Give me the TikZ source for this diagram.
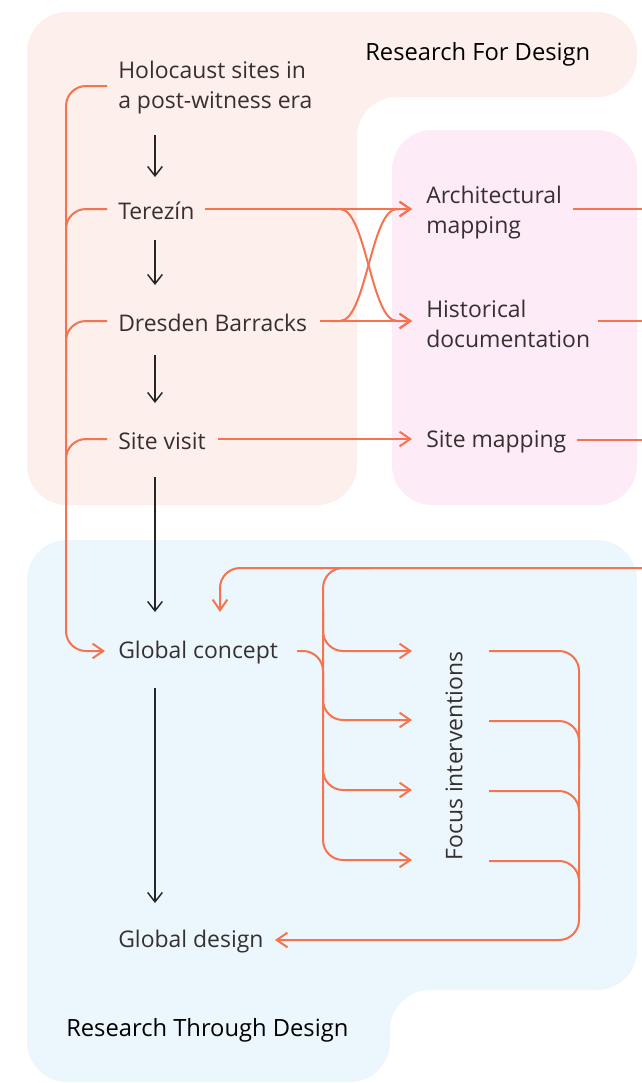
\documentclass[tikz,border=0pt]{standalone}
\usepackage{fontspec}
\setmainfont{Open Sans}
\usetikzlibrary{arrows.meta}
\definecolor{peach}{HTML}{FDEFEB}
\definecolor{pinkbg}{HTML}{FDEBF7}
\definecolor{bluebg}{HTML}{EBF7FD}
\definecolor{coral}{HTML}{F5734F}
\definecolor{txt}{HTML}{363030}
\begin{document}
\begin{tikzpicture}[x=0.75pt,y=-0.75pt,
  lbl/.style={anchor=west, inner sep=0pt, align=left, text=txt, font=\fontsize{17.2}{22.5}\selectfont},
  ttl/.style={anchor=west, inner sep=0pt, text=black, font=\fontsize{17.8}{22.5}\selectfont},
  oline/.style={draw=coral, line width=1.5pt, rounded corners=15pt},
  ocurve/.style={draw=coral, line width=1.5pt, sharp corners},
  otip/.style={-{Straight Barb[length=8pt,width=11pt]}},
  karrow/.style={draw=black!85, line width=1.1pt, -{Straight Barb[length=7pt,width=11pt]}}]
\useasboundingbox (0,0) rectangle (642,1083);
% backgrounds
\fill[peach, rounded corners=30pt] (27,12) -- (637,12) -- (637,97) -- (357,97) -- (357,505) -- (27,505) -- cycle;
\fill[pinkbg, rounded corners=30pt] (392,130) rectangle (637,505);
\fill[bluebg, rounded corners=30pt] (27,540) -- (637,540) -- (637,990) -- (390,990) -- (390,1082) -- (27,1082) -- cycle;
% titles
\node[ttl] (rfd) at (365,54) {Research For Design};
\node[ttl] (rtd) at (66,1030) {Research Through Design};
% labels
\node[lbl] (holo) at (118,88) {Holocaust sites in\\a post-witness era};
\node[lbl] (terezin) at (118,211) {Terezín};
\node[lbl] (dresden) at (118,323) {Dresden Barracks};
\node[lbl] (visit) at (118,441) {Site visit};
\node[lbl] (gconcept) at (118,653) {Global concept};
\node[lbl] (gdesign) at (118,942) {Global design};
\node[lbl] (arch) at (426,213) {Architectural\\mapping};
\node[lbl] (hist) at (426,324) {Historical\\documentation};
\node[lbl] (smap) at (426,442) {Site mapping};
\node[inner sep=0pt, text=txt, rotate=90, font=\fontsize{17.2}{22.5}\selectfont] (focus) at (454,756) {Focus interventions};
% coordinates
\coordinate (k1a) at (155,135); \coordinate (k1b) at (155,177);
\coordinate (k2a) at (155,240); \coordinate (k2b) at (155,285);
\coordinate (k3a) at (155,355); \coordinate (k3b) at (155,403);
\coordinate (k4a) at (155,477); \coordinate (k4b) at (155,612);
\coordinate (k5a) at (155,688); \coordinate (k5b) at (155,903);
% black arrows
\draw[karrow] (k1a) -- (k1b);
\draw[karrow] (k2a) -- (k2b);
\draw[karrow] (k3a) -- (k3b);
\draw[karrow] (k4a) -- (k4b);
\draw[karrow] (k5a) -- (k5b);
% left bracket
\draw[oline, otip] (107,86) -- (66,86) -- (66,651) -- (105,651);
\draw[oline] (107,209) -- (66,209) -- (66,260);
\draw[oline] (107,321) -- (66,321) -- (66,370);
\draw[oline] (107,439) -- (66,439) -- (66,490);
% to right column
\draw[oline, otip] (205,209) -- (412,209);
\draw[oline, otip] (320,321) -- (412,321);
\draw[ocurve, otip] (330,209) -- (340,209) .. controls (366,209) and (371,321) .. (397,321) -- (412,321);
\draw[ocurve, otip] (330,321) -- (340,321) .. controls (366,321) and (371,209) .. (397,209) -- (412,209);
\draw[oline, otip] (218,439) -- (412,439);
% outgoing
\coordinate (out1) at (642,209);
\coordinate (out2) at (642,321);
\coordinate (out3) at (642,440);
\coordinate (in1) at (642,568);
\draw[oline] (573,209) -- (out1);
\draw[oline] (598,321) -- (out2);
\draw[oline] (577,440) -- (out3);
% return
\draw[oline, otip] (in1) -- (220,568) -- (220,612);
\draw[oline, otip] (370,568) -- (323,568) -- (323,860) -- (412,860);
\draw[oline, otip] (323,610) -- (323,651) -- (412,651);
\draw[oline, otip] (323,690) -- (323,720) -- (412,720);
\draw[oline, otip] (323,760) -- (323,790) -- (412,790);
\draw[oline] (297,651) -- (323,651) -- (323,700);
% right bracket
\draw[oline, otip] (489,651) -- (579,651) -- (579,940) -- (275,940);
\draw[oline] (489,721) -- (579,721) -- (579,770);
\draw[oline] (489,791) -- (579,791) -- (579,840);
\draw[oline] (489,861) -- (579,861) -- (579,910);
\end{tikzpicture}
\end{document}
